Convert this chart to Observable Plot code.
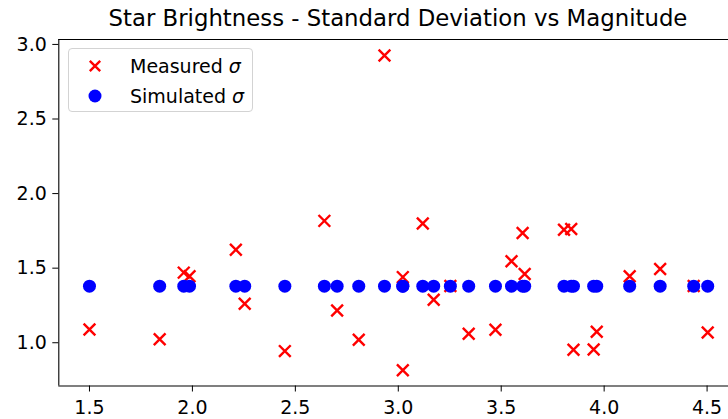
<!DOCTYPE html>
<html>
<head>
<meta charset="utf-8">
<script src="https://cdn.jsdelivr.net/npm/d3@7"></script>
<script src="https://cdn.jsdelivr.net/npm/@observablehq/plot@0.6"></script>
<style>
  html, body { margin: 0; padding: 0; background: #fff; overflow: hidden; }
  #wrap { position: relative; width: 728px; height: 419px; font-family: "DejaVu Sans", sans-serif; overflow: hidden; }
  #title { position: absolute; left: 0; top: 0; width: 796px; text-align: center; font-size: 22.8px; line-height: 36px; color: #000; white-space: nowrap; }
  #chart { position: absolute; left: 0; top: 30px; }
  #legend { position: absolute; left: 68px; top: 48px; width: 183px; height: 62px; border: 1px solid #d3d3d3; border-radius: 4px; background: rgba(255,255,255,0.8); font-size: 19px; color: #000; }
  .item { position: absolute; left: 0; height: 24px; display: flex; align-items: center; white-space: nowrap; }
  .item svg { position: absolute; left: 15px; }
  .item span { position: absolute; left: 61px; }
  .sig { font-style: italic; }
</style>
</head>
<body>
<div id="wrap">
  <div id="title">Star Brightness - Standard Deviation vs Magnitude</div>
  <div id="chart"></div>
  <div id="legend">
    <div class="item" style="top:5px"><svg width="22" height="22" viewBox="-11 -11 22 22"><path d="M-5.2,-5.2L5.2,5.2M-5.2,5.2L5.2,-5.2" stroke="#ff0000" stroke-width="2.4"/></svg><span>Measured <span class="sig" style="position:static">σ</span></span></div>
    <div class="item" style="top:35px"><svg width="22" height="22" viewBox="-11 -11 22 22"><circle r="6.5" fill="#0000ff"/></svg><span>Simulated <span class="sig" style="position:static">σ</span></span></div>
  </div>
</div>
<script>
const magnitude = [1.500, 1.841, 1.958, 1.986, 2.211, 2.254, 2.449, 2.641, 2.703, 2.808,
                   2.933, 3.022, 3.022, 3.119, 3.172, 3.253, 3.342, 3.472, 3.550, 3.604,
                   3.614, 3.805, 3.840, 3.851, 3.949, 3.964, 4.124, 4.272, 4.435, 4.503];
const measured  = [1.089, 1.024, 1.470, 1.446, 1.624, 1.261, 0.944, 1.817, 1.216, 1.020,
                   2.926, 1.440, 0.815, 1.800, 1.288, 1.380, 1.060, 1.087, 1.546, 1.736,
                   1.461, 1.758, 1.762, 0.953, 0.955, 1.074, 1.446, 1.495, 1.380, 1.069];
const simulated = [1.379, 1.379, 1.379, 1.379, 1.379, 1.379, 1.379, 1.379, 1.379, 1.379,
                   1.379, 1.379, 1.379, 1.379, 1.379, 1.379, 1.379, 1.379, 1.379, 1.379,
                   1.379, 1.379, 1.379, 1.379, 1.379, 1.379, 1.379, 1.379, 1.379, 1.379];
const xTicks = [1.5, 2.0, 2.5, 3.0, 3.5, 4.0, 4.5];
const yTicks = [1.0, 1.5, 2.0, 2.5, 3.0];
const xDomain = [1.351, 4.604];
const yDomain = [0.71, 3.033];

const rows = magnitude.map((m, i) => ({m, meas: measured[i], sim: simulated[i]}));

const chart = Plot.plot({
  width: 728,
  height: 389,
  marginLeft: 58.3,
  marginRight: 0,
  marginTop: 9,
  marginBottom: 33.5,
  style: {fontSize: "19px", fontFamily: "DejaVu Sans, sans-serif", color: "#000", background: "transparent"},
  x: {domain: xDomain, ticks: xTicks, tickFormat: d3.format(".1f"), tickSize: 6, tickPadding: 8, label: null},
  y: {domain: yDomain, ticks: yTicks, tickFormat: d3.format(".1f"), tickSize: 6, tickPadding: 6, label: null},
  marks: [
    Plot.dot(rows, {x: "m", y: "meas", symbol: "times", r: 5.4, stroke: "#ff0000", strokeWidth: 2.4}),
    Plot.dot(rows, {x: "m", y: "sim", r: 6.5, fill: "#0000ff", stroke: "none"}),
    Plot.ruleX([xDomain[0]], {stroke: "#000", strokeWidth: 1.1}),
    Plot.ruleY([yDomain[0], yDomain[1]], {stroke: "#000", strokeWidth: 1.1})
  ]
});
document.getElementById("chart").appendChild(chart);
</script>
</body>
</html>
